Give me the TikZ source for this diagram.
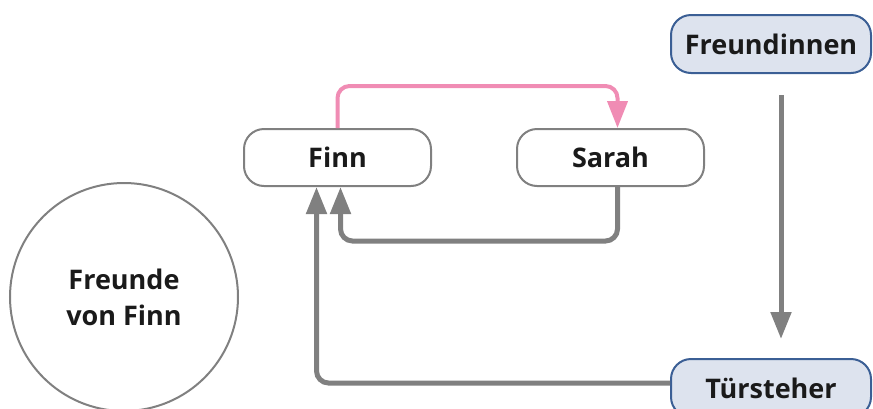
\documentclass[tikz,border=0pt]{standalone}
\usepackage{fontspec}
\setmainfont{Open Sans}
\usetikzlibrary{arrows.meta}
\definecolor{edgegray}{HTML}{808080}
\definecolor{pinkline}{HTML}{F08CB4}
\definecolor{bluefill}{HTML}{DDE3EE}
\definecolor{blueline}{HTML}{3B5F95}
\definecolor{txt}{HTML}{1A1A1A}
\tikzset{
  plainbox/.style={rectangle, rounded corners=20pt, draw=edgegray, line width=2pt, fill=white,
    minimum width=187pt, minimum height=57pt, font=\fontsize{27}{31}\selectfont\bfseries, text=txt},
  bluebox/.style={rectangle, rounded corners=20pt, draw=blueline, line width=2pt, fill=bluefill,
    minimum width=200pt, minimum height=58pt, font=\fontsize{27}{31}\selectfont\bfseries, text=txt},
  roundnode/.style={circle, draw=edgegray, line width=2pt, fill=white, minimum size=228pt,
    font=\fontsize{27}{36}\selectfont\bfseries, text=txt, align=center},
  grayarrow/.style={draw=edgegray, line width=5pt, rounded corners=12pt,
    -{Triangle[width=20pt,length=27pt]}},
  pinkarrow/.style={draw=pinkline, line width=4pt, rounded corners=12pt,
    -{Triangle[width=20pt,length=27pt]}}
}
\begin{document}
\begin{tikzpicture}[x=1pt,y=-1pt]
\useasboundingbox (0,0) rectangle (873,408);
\node[roundnode] (fvf) at (124,297) {Freunde\\von Finn};
\node[plainbox] (finn) at (337.5,157.5) {Finn};
\node[plainbox] (sarah) at (610.5,157.5) {Sarah};
\node[bluebox] (fr) at (771,44) {Freundinnen};
\node[bluebox] (tuer) at (771,388) {Türsteher};
\draw[pinkarrow] (finn.north) -- ++(0,-42) -| ([xshift=7pt]sarah.north);
\draw[grayarrow] ([xshift=7pt]sarah.south) -- ++(0,54) -| ([xshift=3pt]finn.south);
\draw[grayarrow] ([yshift=5pt]tuer.west) -| ([xshift=-21pt]finn.south);
\draw[grayarrow] ([xshift=10pt,yshift=-21pt]fr.south) -- ([xshift=10pt,yshift=19pt]tuer.north);
\end{tikzpicture}
\end{document}
